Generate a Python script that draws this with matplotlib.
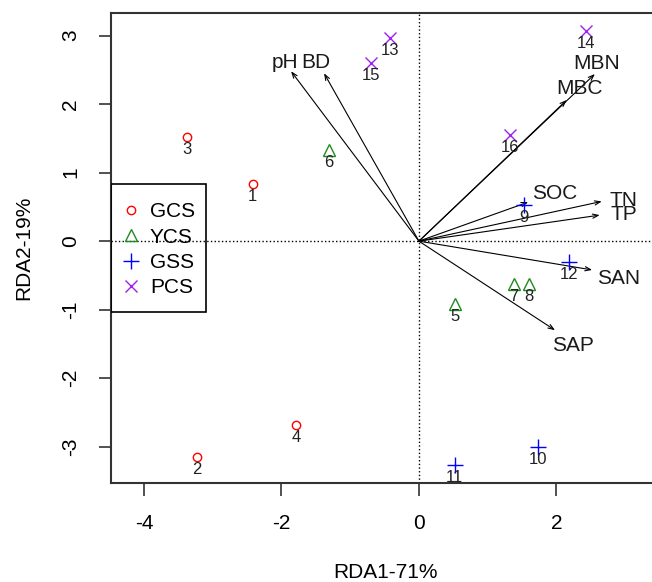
import numpy as np
import matplotlib
matplotlib.use('Agg')
import matplotlib.pyplot as plt
from matplotlib.patches import Rectangle

plt.rcParams['font.family'] = ['Liberation Sans', 'DejaVu Sans']
plt.rcParams['axes.unicode_minus'] = False

# ================= site scores ===================
site_x = [-2.42, -3.23, -3.38, -1.79, 0.52, -1.31, 1.38, 1.60,
          1.53, 1.73, 0.52, 2.18, -0.42, 2.43, -0.70, 1.32]
site_y = [0.83, -3.15, 1.52, -2.69, -0.92, 1.33, -0.63, -0.63,
          0.53, -3.00, -3.27, -0.31, 2.96, 3.07, 2.60, 1.55]
site_group = [0, 0, 0, 0, 1, 1, 1, 1, 2, 2, 2, 2, 3, 3, 3, 3]
site_names = [str(i) for i in range(1, 17)]

groups = ['GCS', 'YCS', 'GSS', 'PCS']
group_colors = ['red', '#1f8a1f', 'blue', '#a020f0']
group_markers = ['o', '^', '+', 'x']
group_sizes = [6, 9, 11, 9]

# ================= environment arrows ===================
env_names = ['pH', 'BD', 'MBN', 'MBC', 'SOC', 'TN', 'TP', 'SAN', 'SAP']
env_x = [-1.86, -1.38, 2.56, 2.15, 1.59, 2.66, 2.63, 2.52, 1.98]
env_y = [2.48, 2.45, 2.44, 2.06, 0.57, 0.58, 0.38, -0.42, -1.30]
env_lab_x = [-1.95, -1.50, 2.59, 2.34, 1.98, 2.98, 2.98, 2.90, 2.24]
env_lab_y = [2.61, 2.61, 2.60, 2.23, 0.70, 0.60, 0.39, -0.54, -1.53]

fig = plt.figure(figsize=(6.52, 5.82), dpi=100)
ax = fig.add_axes([111 / 652, 99 / 582, 548.5 / 652, 470 / 582])

ax.axhline(0, color='black', linestyle=':', linewidth=1.0, zorder=1)
ax.axvline(0, color='black', linestyle=':', linewidth=1.0, zorder=1)

for ex, ey in zip(env_x, env_y):
    ax.annotate('', xy=(ex, ey), xytext=(0, 0),
                arrowprops=dict(arrowstyle='->,head_length=0.4,head_width=0.15',
                                color='black', lw=0.8, shrinkA=0, shrinkB=0))
for name, lx, ly in zip(env_names, env_lab_x, env_lab_y):
    ax.text(lx, ly, name, fontsize=15, ha='center', va='center', color='#1a1a1a')

for g in range(len(groups)):
    xs = [x for x, k in zip(site_x, site_group) if k == g]
    ys = [y for y, k in zip(site_y, site_group) if k == g]
    ax.plot(xs, ys, linestyle='none', marker=group_markers[g],
            markersize=group_sizes[g], markerfacecolor='none',
            markeredgecolor=group_colors[g], markeredgewidth=1.0,
            label=groups[g], zorder=3)

for name, x, y in zip(site_names, site_x, site_y):
    ax.annotate(name, (x, y), xytext=(0, -9), textcoords='offset points',
                ha='center', va='center', fontsize=12, color='#222222')

ax.set_xlim(-4.48, 3.5)
ax.set_ylim(-3.53, 3.33)
ax.set_xticks([-4, -2, 0, 2])
ax.set_yticks([-3, -2, -1, 0, 1, 2, 3])
ax.tick_params(length=9, width=1.2, labelsize=15, pad=13, color='#333333')
plt.setp(ax.get_yticklabels(), rotation=90, va='center')
for s in ax.spines.values():
    s.set_linewidth(1.5)
    s.set_color('#333333')

ax.set_xlabel('RDA1-71%', fontsize=15, labelpad=22)
ax.set_ylabel('RDA2-19%', fontsize=15, labelpad=20)

# legend box drawn separately, R style
ax.add_patch(Rectangle((0, 0.3638), 0.1732, 0.2724, transform=ax.transAxes,
                       fill=False, edgecolor='black', linewidth=1.2, zorder=4))
ax.legend(loc='upper left', bbox_to_anchor=(0.0175, 0.597), fontsize=15,
          frameon=False, handlelength=1.0, handletextpad=0.41,
          labelspacing=0.3, borderpad=0, borderaxespad=0)

fig.savefig('out.png', dpi=100)
